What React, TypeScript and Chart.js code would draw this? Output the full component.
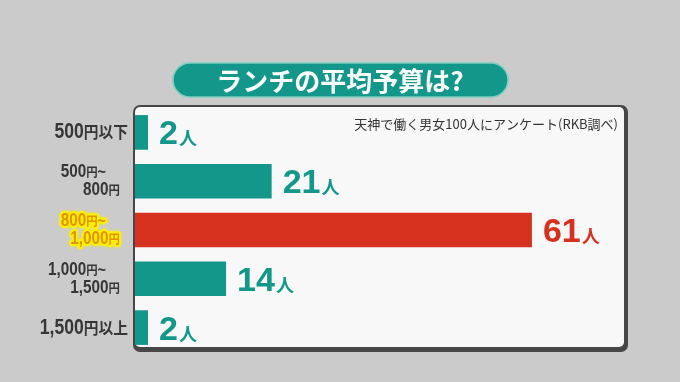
import React, { useEffect, useRef } from "react";
import { Chart, registerables } from "chart.js";

Chart.register(...registerables);

const title = "ランチの平均予算は?";
const note = "天神で働く男女100人にアンケート(RKB調べ)";
const categories: string[][] = [
  ["500円以下"],
  ["500円~", "800円"],
  ["800円~", "1,000円"],
  ["1,000円~", "1,500円"],
  ["1,500円以上"],
];
const values = [2, 21, 61, 14, 2];
const unit = "人";
const highlighted = [false, false, true, false, false];

const W = 680;
const H = 382;
const BG = "#cbcbcb";
const TEAL = "#13978a";
const RED = "#d6311f";
const DIGIT_FONT = '"Liberation Sans", Arial, sans-serif';
const CJK_FONT = '"Noto Sans CJK JP", sans-serif';

type Seg = { text: string; font: string; sx: number };

function segWidth(ctx: CanvasRenderingContext2D, segs: Seg[]) {
  let w = 0;
  for (const s of segs) {
    ctx.font = s.font;
    w += ctx.measureText(s.text).width * s.sx;
  }
  return w;
}

function drawSegs(
  ctx: CanvasRenderingContext2D,
  segs: Seg[],
  xRight: number,
  baseline: number,
  fill: string,
  stroke?: string
) {
  const total = segWidth(ctx, segs);
  const passes = stroke ? ["stroke", "fill"] : ["fill"];
  for (const pass of passes) {
    let x = xRight - total;
    for (const s of segs) {
      ctx.save();
      ctx.font = s.font;
      ctx.textAlign = "left";
      ctx.textBaseline = "alphabetic";
      const w = ctx.measureText(s.text).width * s.sx;
      ctx.translate(x, baseline);
      ctx.scale(s.sx, 1);
      if (pass === "stroke" && stroke) {
        ctx.strokeStyle = stroke;
        ctx.lineWidth = 4;
        ctx.lineJoin = "round";
        ctx.shadowColor = stroke;
        ctx.shadowBlur = 3;
        ctx.strokeText(s.text, 0, 0);
      } else {
        ctx.fillStyle = fill;
        ctx.fillText(s.text, 0, 0);
      }
      ctx.restore();
      x += w;
    }
  }
}

function labelSegs(line: string, big: boolean): Seg[] {
  const parts = line.match(/[0-9,]+|~|[^0-9,~]+/g) || [];
  return parts.map((p) => {
    if (/^[0-9,]+$/.test(p)) {
      return big
        ? { text: p, font: `bold 22px ${DIGIT_FONT}`, sx: 0.8 }
        : { text: p, font: `bold 18px ${DIGIT_FONT}`, sx: 0.85 };
    }
    if (p === "~") {
      return { text: p, font: `bold ${big ? 18 : 16}px ${DIGIT_FONT}`, sx: 0.9 };
    }
    return big
      ? { text: p, font: `bold 16px ${CJK_FONT}`, sx: 0.92 }
      : { text: p, font: `bold 12px ${CJK_FONT}`, sx: 0.95 };
  });
}

function roundRect(ctx: CanvasRenderingContext2D, x: number, y: number, w: number, h: number, r: number) {
  ctx.beginPath();
  ctx.moveTo(x + r, y);
  ctx.lineTo(x + w - r, y);
  ctx.arcTo(x + w, y, x + w, y + r, r);
  ctx.lineTo(x + w, y + h - r);
  ctx.arcTo(x + w, y + h, x + w - r, y + h, r);
  ctx.lineTo(x + r, y + h);
  ctx.arcTo(x, y + h, x, y + h - r, r);
  ctx.lineTo(x, y + r);
  ctx.arcTo(x, y, x + r, y, r);
  ctx.closePath();
}

const decor = {
  id: "decor",
  beforeDraw(chart: any) {
    const ctx: CanvasRenderingContext2D = chart.ctx;
    ctx.save();
    ctx.fillStyle = BG;
    ctx.fillRect(0, 0, W, H);

    // title pill
    roundRect(ctx, 173, 63, 335, 34, 17);
    ctx.fillStyle = TEAL;
    ctx.fill();
    ctx.strokeStyle = "#7ccdc2";
    ctx.lineWidth = 1.5;
    ctx.stroke();
    ctx.fillStyle = "#ffffff";
    ctx.font = `bold 26px ${CJK_FONT}`;
    ctx.textAlign = "center";
    ctx.textBaseline = "middle";
    ctx.fillText(title, 340, 81);

    // panel
    roundRect(ctx, 133, 105, 495, 247, 7);
    ctx.fillStyle = "#474747";
    ctx.fill();
    roundRect(ctx, 135, 107, 489, 240, 5);
    ctx.fillStyle = "#f8f8f8";
    ctx.fill();
    ctx.restore();
  },
  afterDatasetsDraw(chart: any) {
    const ctx: CanvasRenderingContext2D = chart.ctx;
    const meta = chart.getDatasetMeta(0);
    const yScale = chart.scales.y;
    ctx.save();

    // value labels
    meta.data.forEach((el: any, i: number) => {
      const color = highlighted[i] ? RED : TEAL;
      const x = el.x + 11;
      const base = el.y + 12;
      ctx.fillStyle = color;
      ctx.textAlign = "left";
      ctx.textBaseline = "alphabetic";
      ctx.font = `bold 34px ${DIGIT_FONT}`;
      const txt = String(values[i]);
      ctx.fillText(txt, x, base);
      const w = ctx.measureText(txt).width;
      ctx.font = `bold 18px ${CJK_FONT}`;
      ctx.fillText(unit, x + w + 1, base + 1);
    });

    // category labels
    categories.forEach((lines, i) => {
      const y = yScale.getPixelForValue(i);
      const hl = highlighted[i];
      const fill = hl ? "#e39200" : "#363636";
      const stroke = hl ? "#fff000" : undefined;
      if (lines.length === 1) {
        drawSegs(ctx, labelSegs(lines[0], true), 128, y + 6, fill, stroke);
      } else {
        drawSegs(ctx, labelSegs(lines[0], false), 106, y - 4, fill, stroke);
        drawSegs(ctx, labelSegs(lines[1], false), 120, y + 14, fill, stroke);
      }
    });

    // note
    ctx.fillStyle = "#333333";
    ctx.font = `13px ${CJK_FONT}`;
    ctx.textAlign = "right";
    ctx.textBaseline = "middle";
    ctx.fillText(note, 618, 124);
    ctx.restore();
  },
};

export default function App() {
  const ref = useRef<HTMLCanvasElement | null>(null);
  useEffect(() => {
    if (!ref.current) return;
    const chart = new Chart(ref.current, {
      type: "bar",
      data: {
        labels: categories.map((c) => c.join(" ")),
        datasets: [
          {
            data: values,
            backgroundColor: values.map((_, i) => (highlighted[i] ? RED : TEAL)),
            borderWidth: 0,
            barPercentage: 0.71,
            categoryPercentage: 1,
          },
        ],
      },
      options: {
        indexAxis: "y",
        responsive: false,
        animation: false,
        devicePixelRatio: 1,
        layout: { padding: { left: 135, right: 57, top: 108, bottom: 30 } },
        scales: {
          x: { display: false, min: 0, max: 75 },
          y: { display: false },
        },
        plugins: { legend: { display: false }, tooltip: { enabled: false } },
      },
      plugins: [decor],
    } as any);
    return () => chart.destroy();
  }, []);
  return (
    <div style={{ position: "fixed", left: 0, top: 0, width: W, height: H }}>
      <canvas ref={ref} width={W} height={H} style={{ width: W, height: H, display: "block" }} />
    </div>
  );
}
